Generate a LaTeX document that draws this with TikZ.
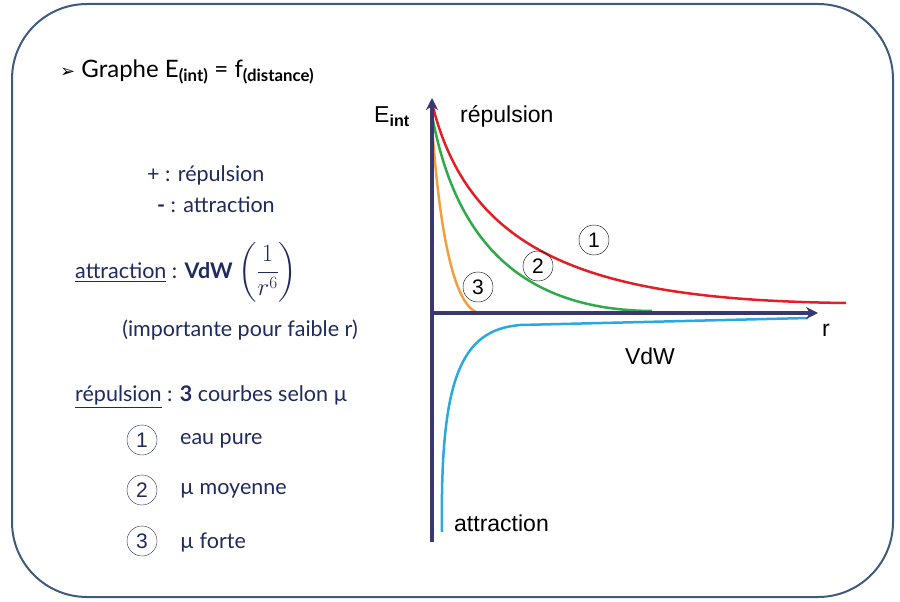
\documentclass[tikz,border=0pt]{standalone}
\usepackage{amsmath}
\usepackage{fontspec}
\setmainfont{Lato}
\newfontfamily\arialf{Liberation Sans}
\newfontfamily\symf{DejaVu Sans}
\usetikzlibrary{arrows.meta}
\definecolor{navy}{HTML}{1F2A5E}
\definecolor{axis}{HTML}{3A3870}
\definecolor{frame}{HTML}{3E5A7C}
\definecolor{cred}{HTML}{E31E24}
\definecolor{cgreen}{HTML}{2EAA4A}
\definecolor{corange}{HTML}{F0A040}
\definecolor{cblue}{HTML}{2AA8E0}
\begin{document}
\begin{tikzpicture}[x=1pt,y=-1pt,
  lt/.style={font=\fontsize{21.5}{24}\selectfont,text=navy,inner sep=0pt},
  gt/.style={font=\arialf\fontsize{23}{26}\selectfont,text=black,inner sep=0pt},
  num/.style={circle,draw=black,thin,minimum size=30pt,inner sep=0pt,font=\arialf\fontsize{21}{22}\selectfont},
  ax/.style={axis,line width=3.5pt,-{Stealth[length=12pt,width=12pt]}},
  crv/.style={line width=2.5pt}]
\useasboundingbox (0,0) rectangle (900,602);
\draw[frame,line width=2pt,rounded corners=75pt] (12,4) rectangle (893,597);
\node[anchor=west,inner sep=0pt,font=\fontsize{24}{26}\selectfont] (title) at (60,72) {{\symf\fontsize{18}{20}\selectfont ➢}\ Graphe E\textsubscript{\textbf{(int)}} = f\textsubscript{\textbf{(distance)}}};
% axes
\coordinate (o) at (432,313);
\coordinate (yb) at (432,542);
\coordinate (yt) at (432,98);
\coordinate (xe) at (818,313);
% curves
\draw[cred,crv] (432,103) .. controls (470,260) and (600,300) .. (846,303);
\draw[cgreen,crv] (432,115) .. controls (455,240) and (520,310) .. (652,311);
\draw[corange,crv] (432,125) .. controls (438,210) and (450,300) .. (476,312);
\draw[cblue,crv] (442,532) .. controls (440,380) and (460,330) .. (520,325) -- (808,318);
\draw[ax] (yb) -- (yt);
\draw[ax] (o) -- (xe);
\node[gt] (eint) at (392,117) {E\textsubscript{\textbf{int}}};
\node[gt,anchor=west] (rep) at (460,116) {répulsion};
\node[gt] (r) at (826,330) {r};
\node[gt] (vdw) at (650,356) {VdW};
\node[gt,anchor=west] (att) at (454,523) {attraction};
\node[num] (c1) at (594,240) {1};
\node[num] (c2) at (538,266) {2};
\node[num] (c3) at (478,287) {3};
% left text
\node[lt,anchor=west] (l1) at (147,175) {+ : répulsion};
\node[lt,anchor=west] (l2) at (157,205) {\textbf{-} : attraction};
\node[lt,anchor=west] (l3) at (75,272) {\underline{attraction} : \textbf{VdW} {\fontsize{26}{28}\selectfont$\left(\dfrac{1}{r^6}\right)$}};
\node[lt] (l4) at (240,330) {(importante pour faible r)};
\node[lt,anchor=west] (l5) at (75,397) {\underline{répulsion} : \textbf{3} courbes selon µ};
\node[num,text=navy,draw=navy] (n1) at (142,440) {1};
\node[num,text=navy,draw=navy] (n2) at (142,490) {2};
\node[num,text=navy,draw=navy] (n3) at (142,541) {3};
\node[lt,anchor=west] at (180,441) {eau pure};
\node[lt,anchor=west] at (180,491) {µ moyenne};
\node[lt,anchor=west] at (180,543) {µ forte};
\end{tikzpicture}
\end{document}
